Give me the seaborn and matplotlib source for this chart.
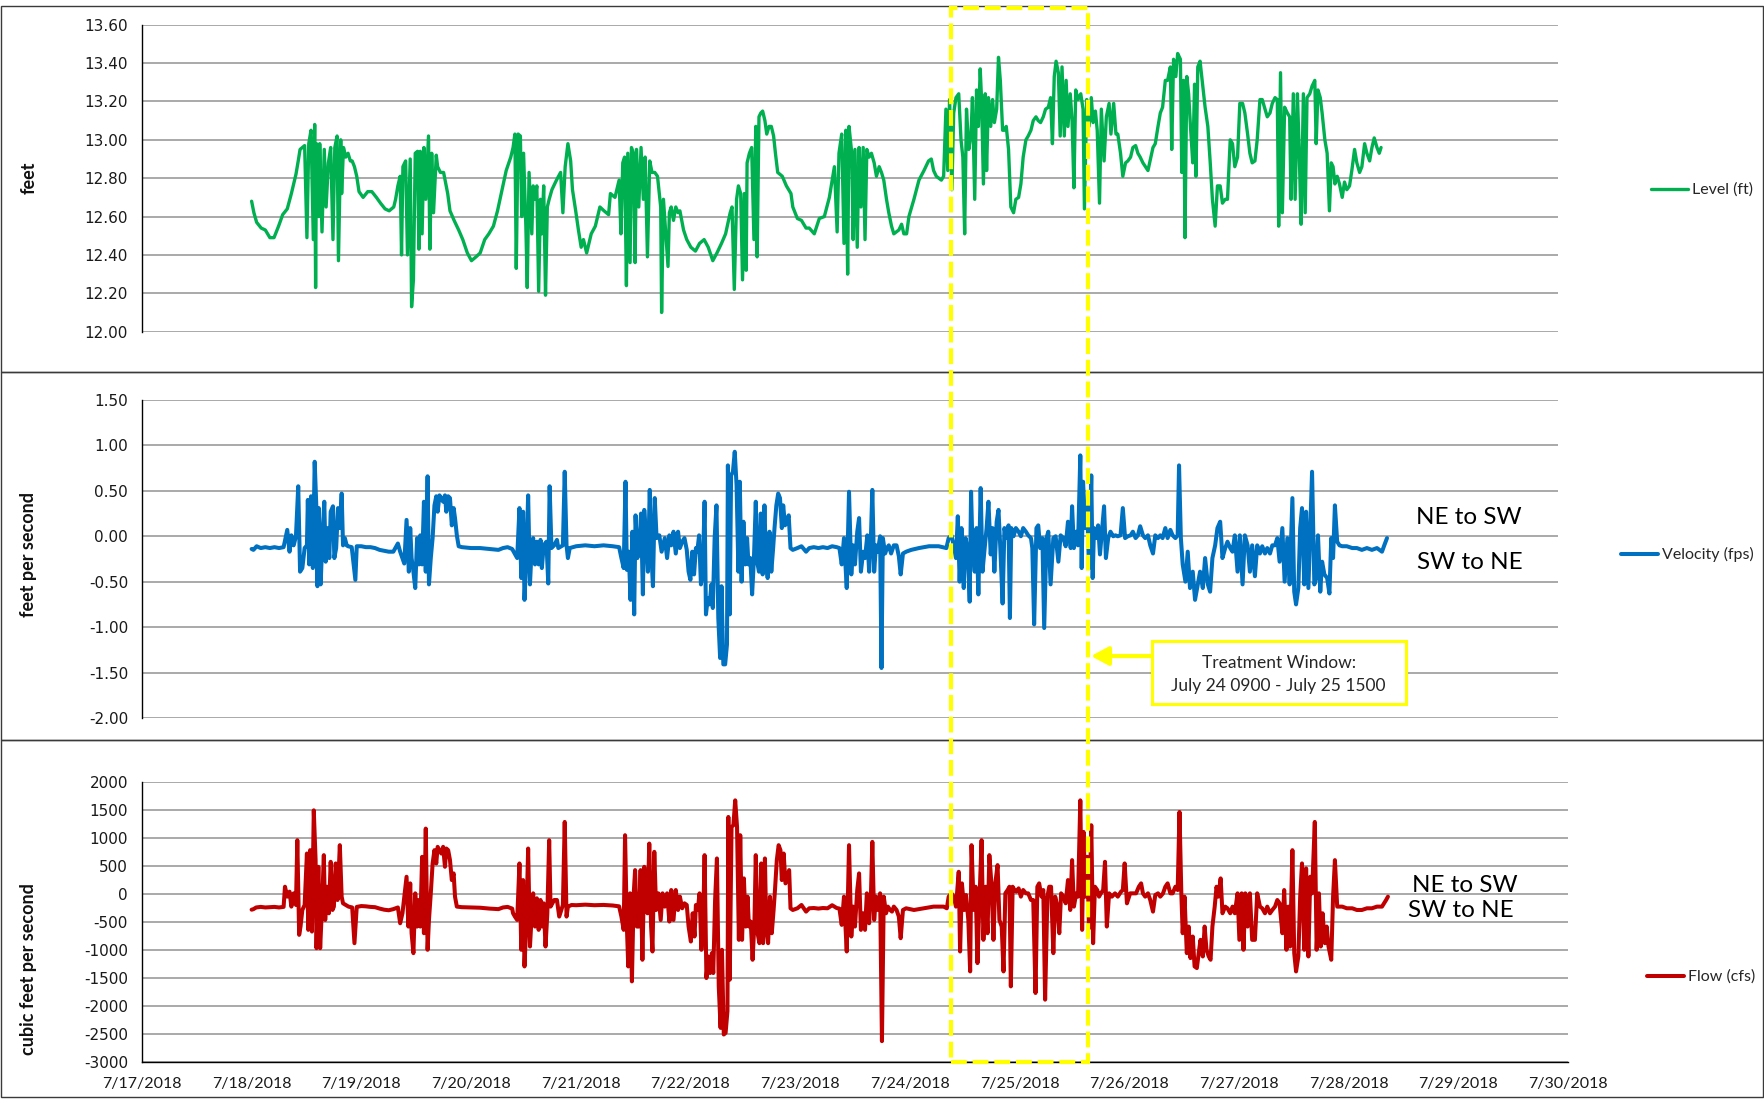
import matplotlib
matplotlib.use("Agg")
import matplotlib.pyplot as plt
import matplotlib.dates as mdates
from matplotlib.patches import Rectangle, FancyArrowPatch
from matplotlib.transforms import blended_transform_factory
from matplotlib.ticker import FuncFormatter
import pandas as pd
import seaborn as sns

# ---------------------------------------------------------------------------
# Gauge readings: (hours after 7/18/2018 00:00, value)
# ---------------------------------------------------------------------------
level_ft = [
    (0.0, 12.68), (0.5, 12.62), (1.1, 12.57), (2.1, 12.54), (3.0, 12.53), (4.0, 12.49), (4.9, 12.49), (5.9, 12.55),
    (6.8, 12.61), (7.8, 12.64), (8.7, 12.72), (9.7, 12.82), (10.2, 12.89), (10.6, 12.95), (11.6, 12.97), (12.1, 12.49),
    (12.5, 12.98), (13.0, 13.05), (13.5, 12.48), (13.8, 13.08), (14.0, 12.23), (14.2, 12.98), (14.7, 12.60), (14.9, 12.98),
    (15.4, 12.52), (15.9, 12.95), (16.3, 12.65), (16.8, 12.88), (17.3, 12.96), (17.8, 12.48), (18.2, 12.96), (18.7, 13.02),
    (19.0, 12.37), (19.5, 13.00), (19.7, 12.72), (20.1, 12.96), (20.6, 12.91), (21.1, 12.93), (21.6, 12.89), (22.0, 12.89),
    (22.5, 12.86), (23.0, 12.81), (23.5, 12.73), (24.4, 12.70), (25.4, 12.73), (26.3, 12.73), (27.3, 12.70), (28.2, 12.67),
    (29.2, 12.64), (30.1, 12.63), (31.1, 12.65), (31.5, 12.69), (32.0, 12.76), (32.5, 12.81), (32.8, 12.40), (33.1, 12.86),
    (33.7, 12.89), (34.1, 12.40), (34.7, 12.90), (35.0, 12.13), (35.4, 12.27), (35.8, 12.93), (36.3, 12.94), (36.6, 12.43),
    (36.9, 12.94), (37.3, 12.51), (37.7, 12.96), (38.1, 12.69), (38.7, 13.02), (39.0, 12.43), (39.4, 12.93), (39.8, 12.62),
    (40.4, 12.92), (40.7, 12.86), (41.3, 12.83), (42.0, 12.83), (42.5, 12.77), (42.9, 12.72), (43.4, 12.63), (44.3, 12.58),
    (45.3, 12.53), (46.2, 12.48), (47.2, 12.41), (48.1, 12.37), (49.1, 12.39), (50.0, 12.41), (51.0, 12.48), (51.9, 12.51),
    (52.9, 12.55), (53.8, 12.63), (54.8, 12.74), (55.7, 12.84), (56.7, 12.91), (57.2, 12.96), (57.6, 13.03), (57.9, 12.33),
    (58.3, 13.03), (58.8, 13.02), (59.1, 12.60), (59.5, 12.93), (60.0, 12.55), (60.3, 12.23), (60.7, 12.83), (61.3, 12.51),
    (61.6, 12.76), (62.0, 12.69), (62.4, 12.76), (62.8, 12.21), (63.2, 12.69), (63.5, 12.51), (63.9, 12.76), (64.3, 12.19),
    (64.7, 12.65), (65.1, 12.69), (65.7, 12.74), (66.7, 12.79), (67.6, 12.83), (68.1, 12.62), (68.6, 12.86), (69.2, 12.98),
    (69.8, 12.89), (70.2, 12.74), (70.9, 12.63), (71.5, 12.53), (72.1, 12.44), (72.6, 12.48), (73.3, 12.41), (74.3, 12.51),
    (75.2, 12.55), (76.2, 12.65), (77.1, 12.63), (78.1, 12.61), (78.5, 12.72), (79.5, 12.70), (80.4, 12.79), (80.8, 12.51),
    (81.2, 12.88), (81.6, 12.91), (82.0, 12.24), (82.3, 12.93), (82.8, 12.36), (83.1, 12.96), (83.5, 12.93), (83.9, 12.36),
    (84.2, 12.95), (84.7, 12.65), (85.2, 12.96), (85.7, 12.69), (86.1, 12.91), (86.6, 12.39), (87.1, 12.89), (87.6, 12.83),
    (88.2, 12.83), (88.8, 12.81), (89.2, 12.72), (89.5, 12.65), (89.7, 12.10), (90.1, 12.69), (90.7, 12.48), (91.1, 12.34),
    (91.4, 12.62), (91.8, 12.65), (92.3, 12.58), (92.8, 12.65), (93.3, 12.62), (93.7, 12.63), (94.5, 12.53), (95.2, 12.48),
    (96.1, 12.44), (97.1, 12.42), (98.0, 12.46), (99.0, 12.48), (99.9, 12.44), (100.9, 12.37), (101.8, 12.41), (102.8, 12.46),
    (103.7, 12.51), (104.7, 12.62), (105.1, 12.65), (105.6, 12.22), (106.1, 12.69), (106.5, 12.76), (107.0, 12.72), (107.4, 12.27),
    (107.8, 12.72), (108.2, 12.32), (108.4, 12.88), (108.9, 12.93), (109.4, 12.96), (109.9, 12.48), (110.3, 13.07), (110.6, 12.39),
    (111.0, 13.12), (111.4, 13.14), (111.8, 13.15), (112.3, 13.10), (112.7, 13.03), (113.2, 13.07), (113.7, 13.07), (114.2, 13.02),
    (114.6, 12.93), (115.1, 12.83), (116.1, 12.81), (117.0, 12.76), (118.0, 12.72), (118.4, 12.65), (119.4, 12.59), (120.3, 12.58),
    (121.3, 12.54), (122.0, 12.54), (123.1, 12.51), (124.2, 12.59), (125.3, 12.60), (126.4, 12.70), (127.5, 12.86), (128.1, 12.52),
    (128.5, 12.93), (129.1, 13.03), (129.6, 12.46), (130.0, 13.05), (130.4, 12.30), (130.7, 13.07), (131.3, 12.93), (131.6, 12.48),
    (132.0, 12.95), (132.5, 12.44), (132.9, 12.96), (133.3, 12.65), (133.8, 12.96), (134.2, 12.48), (134.6, 12.95), (135.1, 12.91),
    (135.6, 12.93), (136.2, 12.88), (136.7, 12.81), (137.3, 12.86), (137.8, 12.83), (138.3, 12.79), (138.9, 12.69), (139.4, 12.62),
    (140.0, 12.55), (140.5, 12.51), (141.6, 12.53), (142.2, 12.56), (142.7, 12.51), (143.3, 12.51), (143.8, 12.60), (144.9, 12.69),
    (146.0, 12.79), (147.1, 12.84), (148.1, 12.89), (148.7, 12.90), (149.2, 12.84), (149.8, 12.81), (150.9, 12.79), (151.4, 12.81),
    (151.9, 13.16), (152.3, 12.84), (152.7, 13.21), (153.2, 12.74), (153.6, 13.14), (154.1, 13.22), (154.7, 13.24), (155.2, 13.00),
    (155.6, 12.91), (156.0, 12.51), (156.4, 13.16), (156.9, 12.95), (157.4, 13.03), (157.7, 13.22), (158.2, 12.69), (158.6, 13.26),
    (159.0, 13.07), (159.4, 13.37), (159.7, 13.21), (160.1, 12.77), (160.5, 13.24), (160.8, 12.84), (161.2, 13.22), (161.7, 13.07),
    (162.1, 13.21), (162.5, 13.09), (163.0, 13.16), (163.4, 13.43), (163.8, 13.31), (164.3, 13.05), (164.7, 13.05), (165.1, 13.07),
    (165.6, 12.95), (166.1, 12.65), (166.7, 12.62), (167.2, 12.69), (167.8, 12.70), (168.3, 12.77), (168.8, 12.91), (169.4, 13.00),
    (169.9, 13.02), (170.5, 13.05), (171.0, 13.10), (171.6, 13.12), (172.1, 13.10), (172.6, 13.09), (173.2, 13.12), (173.7, 13.16),
    (174.3, 13.17), (174.8, 13.22), (175.2, 12.98), (175.6, 13.33), (176.0, 13.41), (176.5, 13.35), (176.9, 13.02), (177.3, 13.38),
    (177.8, 13.02), (178.2, 13.31), (178.6, 13.07), (179.1, 13.24), (179.5, 13.10), (179.9, 12.75), (180.3, 13.26), (180.8, 13.21),
    (181.4, 13.24), (181.9, 13.16), (182.2, 12.64), (182.7, 13.21), (183.2, 13.07), (183.7, 13.22), (184.1, 13.09), (184.6, 13.15),
    (185.0, 13.05), (185.5, 12.67), (185.9, 13.16), (186.5, 12.89), (187.0, 13.12), (187.6, 13.19), (188.0, 13.03), (188.6, 13.19),
    (189.1, 13.03), (189.5, 13.03), (190.1, 12.93), (190.6, 12.81), (191.2, 12.88), (191.7, 12.89), (192.3, 12.91), (192.8, 12.96),
    (193.4, 12.97), (193.9, 12.93), (194.4, 12.91), (195.0, 12.88), (196.1, 12.84), (197.2, 12.96), (197.7, 12.98), (198.3, 13.07),
    (198.8, 13.14), (199.3, 13.17), (199.9, 13.31), (200.4, 13.31), (201.0, 13.38), (201.3, 12.95), (201.7, 13.42), (202.2, 13.33),
    (202.6, 13.45), (203.2, 13.42), (203.5, 12.83), (203.9, 13.31), (204.2, 12.49), (204.6, 13.33), (205.0, 13.24), (205.4, 13.07),
    (205.9, 12.88), (206.3, 13.29), (206.6, 12.81), (207.0, 13.38), (207.5, 13.41), (208.1, 13.28), (208.6, 13.17), (209.2, 13.07),
    (209.7, 12.89), (210.2, 12.69), (210.8, 12.55), (211.3, 12.76), (211.9, 12.76), (212.4, 12.67), (213.0, 12.69), (213.5, 12.69),
    (214.1, 13.00), (214.6, 12.98), (215.1, 12.86), (215.7, 12.91), (216.2, 13.19), (216.8, 13.19), (217.3, 13.14), (217.9, 13.03),
    (218.4, 12.93), (218.9, 12.88), (219.5, 12.89), (220.0, 13.00), (220.6, 13.21), (221.1, 13.21), (221.7, 13.16), (222.2, 13.12),
    (222.8, 13.14), (223.3, 13.19), (223.9, 13.22), (224.4, 13.21), (224.7, 12.55), (225.1, 13.35), (225.5, 12.62), (226.0, 13.17),
    (226.6, 13.14), (227.1, 13.12), (227.4, 12.69), (227.9, 13.24), (228.3, 12.69), (228.8, 13.24), (229.2, 12.93), (229.6, 12.56),
    (230.1, 13.24), (230.5, 12.62), (230.9, 13.22), (231.5, 13.24), (232.0, 13.28), (232.6, 13.31), (232.9, 12.98), (233.3, 13.26),
    (233.8, 13.22), (234.2, 13.14), (234.8, 13.00), (235.3, 12.93), (235.8, 12.63), (236.2, 12.88), (236.6, 12.86), (237.0, 12.77),
    (237.5, 12.81), (238.0, 12.77), (238.6, 12.70), (239.1, 12.78), (239.6, 12.74), (240.2, 12.76), (240.7, 12.84), (241.3, 12.95),
    (241.8, 12.88), (242.4, 12.83), (242.9, 12.86), (243.5, 12.98), (244.0, 12.93), (244.6, 12.89), (245.1, 12.96), (245.6, 13.01),
    (246.2, 12.96), (246.7, 12.93), (247.1, 12.96),
]

velocity_fps = [
    (0.0, -0.14), (0.4, -0.15), (1.1, -0.11), (2.0, -0.13), (3.0, -0.12), (4.0, -0.13), (5.0, -0.12), (6.0, -0.13),
    (7.0, -0.12), (7.8, 0.07), (8.3, -0.17), (8.7, 0.01), (9.2, -0.10), (9.7, 0.00), (10.2, 0.55), (10.6, -0.39),
    (11.1, -0.35), (11.6, -0.13), (12.1, -0.10), (12.3, 0.40), (12.6, -0.31), (13.0, 0.44), (13.4, -0.35), (13.8, 0.82),
    (14.2, 0.27), (14.4, -0.55), (14.7, 0.31), (15.1, -0.53), (15.5, -0.02), (15.9, 0.38), (16.2, -0.28), (16.6, 0.09),
    (17.0, -0.24), (17.3, 0.27), (17.8, 0.33), (18.1, -0.24), (18.5, -0.13), (18.9, 0.31), (19.3, 0.09), (19.7, 0.47),
    (20.0, -0.10), (20.4, -0.02), (20.8, -0.10), (21.1, -0.11), (21.9, -0.12), (22.7, -0.48), (23.0, -0.11), (24.0, -0.11),
    (25.0, -0.12), (26.0, -0.12), (27.0, -0.13), (28.0, -0.15), (29.0, -0.16), (30.0, -0.17), (31.0, -0.17), (32.0, -0.08),
    (32.5, -0.17), (33.4, -0.30), (33.9, 0.18), (34.4, -0.39), (34.7, 0.09), (35.0, -0.24), (35.4, -0.39), (35.8, -0.57),
    (36.2, -0.02), (36.6, -0.31), (36.9, 0.01), (37.3, -0.31), (37.7, 0.38), (38.1, -0.39), (38.5, 0.66), (38.8, -0.53),
    (39.2, -0.24), (39.6, -0.02), (40.0, 0.34), (40.4, 0.44), (40.7, 0.27), (41.1, 0.45), (41.5, 0.42), (41.9, 0.38),
    (42.3, 0.45), (42.6, 0.27), (43.0, 0.44), (43.4, 0.42), (43.8, 0.12), (44.2, 0.31), (44.5, 0.20), (44.9, 0.01),
    (45.3, -0.11), (46.0, -0.12), (48.0, -0.13), (50.0, -0.13), (52.0, -0.14), (54.0, -0.15), (55.0, -0.13), (56.0, -0.12),
    (57.0, -0.14), (58.1, -0.24), (58.6, 0.31), (59.0, -0.46), (59.4, 0.27), (59.7, -0.70), (60.1, -0.24), (60.5, 0.45),
    (60.9, -0.53), (61.3, -0.10), (61.6, -0.02), (62.0, -0.31), (62.4, -0.06), (62.8, -0.31), (63.2, -0.04), (63.5, -0.35),
    (63.9, -0.10), (64.5, -0.06), (64.9, -0.52), (65.2, 0.55), (65.6, -0.13), (66.2, -0.10), (66.8, -0.04), (67.1, -0.13),
    (68.1, -0.10), (68.5, 0.71), (68.9, -0.10), (69.2, -0.24), (69.6, -0.13), (71.0, -0.11), (73.0, -0.10), (75.0, -0.11),
    (77.0, -0.10), (79.0, -0.11), (80.4, -0.12), (80.9, -0.24), (81.4, -0.35), (81.8, 0.60), (82.1, -0.37), (82.5, -0.17),
    (82.9, -0.70), (83.3, 0.05), (83.7, -0.86), (84.0, 0.23), (84.4, -0.24), (84.8, -0.13), (85.2, 0.25), (85.6, -0.64),
    (85.9, 0.29), (86.3, -0.02), (86.7, -0.39), (87.1, 0.51), (87.5, -0.24), (87.8, -0.55), (88.2, 0.42), (88.6, -0.02),
    (89.2, 0.01), (89.7, -0.17), (90.4, -0.02), (90.9, -0.24), (91.4, 0.01), (91.8, -0.10), (92.3, 0.05), (92.8, -0.19),
    (93.3, 0.05), (93.7, -0.13), (94.2, -0.06), (94.7, -0.02), (95.2, -0.15), (95.6, -0.39), (96.0, -0.48), (96.4, -0.17),
    (96.8, -0.42), (97.2, -0.13), (97.5, -0.17), (97.9, 0.01), (98.3, -0.53), (98.7, -0.39), (99.1, 0.38), (99.4, -0.86),
    (99.8, -0.68), (100.2, -0.75), (100.6, -0.53), (100.9, -0.79), (101.3, -0.02), (101.7, 0.34), (102.1, -0.90), (102.5, -1.34),
    (102.8, -0.55), (103.2, -1.41), (103.6, -1.41), (104.0, -1.19), (104.2, 0.78), (104.6, -0.86), (104.9, 0.67), (105.3, 0.71),
    (105.7, 0.93), (106.1, 0.56), (106.5, -0.39), (106.8, 0.60), (107.2, -0.50), (107.6, 0.16), (108.0, -0.31), (108.4, -0.02),
    (108.7, -0.31), (109.1, -0.24), (109.5, -0.64), (109.9, -0.24), (110.3, 0.38), (110.6, -0.28), (111.0, -0.39), (111.4, 0.25),
    (111.8, -0.42), (112.2, 0.34), (112.5, -0.24), (112.9, -0.46), (113.3, 0.05), (113.7, -0.39), (114.1, -0.13), (114.4, 0.09),
    (114.8, 0.34), (115.2, 0.47), (115.6, 0.42), (116.0, 0.09), (116.3, 0.34), (116.7, 0.12), (117.1, 0.16), (117.5, 0.23),
    (117.9, -0.13), (118.4, -0.15), (119.4, -0.13), (120.3, -0.11), (121.3, -0.17), (122.0, -0.13), (123.0, -0.12), (124.0, -0.13),
    (125.0, -0.12), (126.0, -0.13), (127.0, -0.11), (128.0, -0.12), (128.6, -0.13), (129.1, -0.31), (129.6, -0.02), (130.2, -0.57),
    (130.7, 0.49), (131.2, -0.42), (131.6, -0.10), (132.0, -0.31), (132.5, 0.05), (132.9, 0.20), (133.3, -0.39), (133.8, -0.17),
    (134.2, -0.24), (134.7, 0.01), (135.1, -0.39), (135.5, 0.01), (135.8, 0.51), (136.2, -0.39), (136.6, -0.10), (137.0, -0.17),
    (137.5, 0.00), (137.8, -1.45), (138.1, -0.02), (138.6, -0.19), (139.0, -0.13), (139.4, -0.10), (139.9, -0.19), (140.5, -0.10),
    (141.1, -0.10), (141.6, -0.22), (142.0, -0.42), (142.5, -0.19), (143.2, -0.17), (144.3, -0.15), (146.0, -0.13), (148.2, -0.11),
    (150.3, -0.11), (152.0, -0.13), (152.5, -0.02), (153.1, 0.01), (153.6, -0.10), (154.1, -0.24), (154.5, 0.22), (154.9, -0.50),
    (155.3, 0.09), (155.8, -0.57), (156.2, -0.02), (156.7, -0.17), (157.1, -0.72), (157.4, 0.49), (157.7, -0.10), (158.2, -0.39),
    (158.6, 0.09), (159.0, -0.64), (159.5, 0.53), (159.9, -0.39), (160.3, -0.17), (160.8, 0.09), (161.2, 0.38), (161.7, -0.20),
    (162.1, 0.09), (162.5, -0.39), (163.0, 0.16), (163.4, 0.29), (163.8, -0.13), (164.3, -0.74), (164.7, 0.09), (165.1, -0.02),
    (165.6, 0.12), (165.9, -0.90), (166.2, 0.09), (166.7, 0.00), (167.2, 0.09), (167.8, 0.05), (168.3, 0.00), (168.8, 0.09),
    (169.4, 0.05), (169.9, 0.01), (170.5, -0.02), (170.8, -0.13), (171.2, -0.97), (171.7, 0.09), (172.1, 0.12), (172.5, -0.13),
    (173.0, -0.02), (173.4, -1.01), (173.9, -0.02), (174.3, 0.05), (174.8, -0.53), (175.4, -0.02), (175.9, 0.00), (176.5, -0.28),
    (177.0, 0.01), (177.6, -0.02), (178.1, -0.11), (178.6, 0.16), (179.2, -0.13), (179.5, 0.33), (179.9, -0.13), (180.4, 0.05),
    (180.8, -0.10), (181.3, 0.89), (181.6, -0.35), (181.9, 0.60), (182.4, 0.09), (182.8, 0.34), (183.2, -0.35), (183.7, 0.67),
    (184.0, -0.46), (184.3, 0.09), (184.8, -0.02), (185.2, 0.12), (185.6, -0.20), (186.1, 0.09), (186.5, 0.33), (186.9, -0.24),
    (187.4, -0.02), (187.9, 0.05), (188.5, 0.00), (189.0, 0.01), (189.5, 0.00), (190.1, 0.01), (190.6, 0.31), (191.1, -0.02),
    (191.7, 0.00), (192.3, 0.01), (192.8, 0.05), (193.4, -0.02), (193.9, 0.01), (194.4, 0.11), (195.0, 0.01), (195.5, -0.02),
    (196.1, 0.01), (196.6, -0.10), (197.2, -0.19), (197.7, 0.01), (198.3, -0.02), (198.8, 0.01), (199.3, -0.02), (199.9, 0.09),
    (200.4, -0.02), (201.0, 0.07), (201.5, 0.01), (202.1, -0.02), (202.6, 0.01), (202.9, 0.78), (203.3, -0.02), (203.7, -0.31),
    (204.3, -0.50), (204.8, -0.17), (205.3, -0.57), (205.9, -0.39), (206.4, -0.70), (207.0, -0.53), (207.5, -0.39), (208.1, -0.57),
    (208.6, -0.24), (209.2, -0.53), (209.7, -0.61), (210.2, -0.24), (210.8, -0.10), (211.3, 0.09), (211.9, 0.16), (212.4, -0.24),
    (213.0, -0.13), (213.5, -0.06), (214.1, -0.13), (214.6, -0.17), (215.1, 0.01), (215.7, -0.39), (216.2, 0.01), (216.8, -0.53),
    (217.3, 0.01), (217.9, -0.10), (218.4, -0.39), (218.9, -0.10), (219.5, -0.44), (220.0, -0.10), (220.6, -0.19), (221.1, -0.11),
    (221.7, -0.19), (222.2, -0.13), (222.8, -0.19), (223.3, -0.10), (223.9, -0.10), (224.4, -0.02), (224.9, -0.28), (225.5, 0.09),
    (226.0, -0.50), (226.6, -0.02), (227.1, -0.53), (227.7, 0.42), (228.1, -0.61), (228.5, -0.75), (229.0, -0.57), (229.4, 0.09),
    (229.8, 0.31), (230.3, -0.53), (230.7, 0.27), (231.2, -0.57), (231.6, 0.09), (232.0, 0.71), (232.5, -0.53), (232.9, -0.46),
    (233.3, 0.01), (233.8, -0.61), (234.2, -0.28), (234.7, -0.42), (235.3, -0.46), (235.8, -0.63), (236.2, -0.02), (236.6, -0.24),
    (237.0, 0.34), (237.5, -0.06), (238.0, -0.10), (238.6, -0.11), (239.6, -0.11), (240.8, -0.13), (241.8, -0.13), (242.9, -0.15),
    (244.0, -0.13), (245.1, -0.15), (246.2, -0.13), (247.3, -0.17), (247.8, -0.10), (248.4, -0.02),
]

flow_cfs = [
    (0.0, -280), (0.4, -270), (1.0, -240), (2.0, -230), (3.0, -240), (4.0, -235), (5.0, -230), (6.0, -240),
    (7.0, -230), (7.3, 130), (7.8, -47), (8.3, 42), (8.7, -225), (9.2, 12), (9.7, -196), (10.0, 961),
    (10.4, -729), (10.7, -581), (11.1, -285), (11.6, -196), (12.1, 723), (12.4, -640), (12.8, 783), (13.2, -670),
    (13.6, 1494), (14.0, 605), (14.2, -967), (14.6, 486), (15.0, -967), (15.4, -225), (15.8, 694), (16.1, -463),
    (16.5, 130), (16.9, -344), (17.3, 575), (17.7, -285), (18.0, -225), (18.4, 546), (18.8, -107), (19.3, 872),
    (19.7, -47), (20.0, -166), (20.6, -196), (21.2, -225), (22.0, -240), (22.5, -878), (23.0, -230), (24.0, -215),
    (25.0, -220), (26.0, -230), (27.0, -235), (28.0, -260), (29.0, -280), (30.0, -290), (31.0, -270), (32.0, -240),
    (32.5, -522), (33.0, -344), (33.4, -47), (33.9, 308), (34.3, -581), (34.7, 190), (35.0, -700), (35.4, -1056),
    (35.8, 12), (36.2, -581), (36.6, -107), (36.9, -581), (37.3, 664), (37.7, -700), (38.1, 1168), (38.5, -996),
    (38.8, -463), (39.2, 12), (39.6, 546), (40.0, 783), (40.4, 546), (40.7, 842), (41.1, 783), (41.5, 723),
    (41.9, 842), (42.3, 486), (42.6, 812), (43.0, 783), (43.4, 605), (43.8, 249), (44.2, 368), (44.5, -47),
    (44.9, -225), (46.0, -235), (48.0, -240), (50.0, -245), (52.0, -260), (54.0, -270), (55.0, -240), (56.0, -230),
    (57.0, -260), (57.2, -344), (57.6, -403), (58.1, -463), (58.6, 546), (59.0, -996), (59.4, 249), (59.7, -1293),
    (60.1, -522), (60.5, 812), (60.9, -937), (61.3, -344), (61.6, 12), (62.0, -581), (62.4, -77), (62.8, -640),
    (63.2, -107), (63.5, -581), (63.9, -166), (64.3, -937), (64.7, -344), (65.1, 961), (65.4, -225), (66.2, -107),
    (66.8, -107), (67.3, -403), (68.1, -196), (68.5, 1287), (68.9, -403), (69.2, -225), (70.0, -196), (71.0, -200),
    (73.0, -190), (75.0, -200), (77.0, -195), (79.0, -205), (80.4, -220), (80.9, -403), (81.4, -640), (81.7, 1050),
    (82.1, -581), (82.4, -1293), (82.8, 12), (83.2, -1560), (83.6, 12), (83.9, 427), (84.3, -581), (84.7, -581),
    (85.1, 427), (85.5, -1174), (85.9, 486), (86.2, -107), (86.6, -344), (87.0, 901), (87.4, -581), (87.7, -1026),
    (88.1, 753), (88.5, -285), (89.0, 12), (89.5, -463), (89.9, 12), (90.4, -225), (90.9, 12), (91.4, -492),
    (91.8, 71), (92.3, -463), (92.8, 71), (93.3, -285), (93.7, -47), (94.2, -255), (94.7, -166), (95.2, -196),
    (95.6, -581), (96.1, -848), (96.5, -344), (96.9, -759), (97.2, -196), (97.6, -285), (98.0, 12), (98.4, -996),
    (98.8, -463), (99.1, 694), (99.5, -1500), (99.9, -1115), (100.3, -1411), (100.7, -1056), (101.0, -1411), (101.4, -107),
    (101.8, 635), (102.2, -1649), (102.6, -2390), (102.9, -996), (103.3, -2508), (103.7, -2479), (104.1, -2093), (104.3, 1376),
    (104.6, -1530), (105.0, 1198), (105.4, 1228), (105.8, 1672), (106.2, 1198), (106.6, -818), (106.9, 1050), (107.3, -818),
    (107.7, 279), (108.1, -581), (108.5, -47), (108.8, -581), (109.2, -492), (109.6, -1174), (110.0, -522), (110.3, 694),
    (110.7, -700), (111.1, -878), (111.5, 546), (111.9, -878), (112.3, 635), (112.6, -611), (113.0, -878), (113.4, -47),
    (113.8, -700), (114.2, -285), (114.5, 71), (114.9, 605), (115.3, 872), (115.7, 783), (116.0, 249), (116.4, 723),
    (116.8, 190), (117.2, 308), (117.6, 427), (117.9, -255), (118.4, -285), (119.4, -255), (120.3, -196), (121.3, -314),
    (122.0, -255), (123.0, -250), (124.0, -260), (125.0, -250), (126.0, -255), (127.0, -200), (128.0, -250), (128.6, -260),
    (129.1, -551), (129.6, -47), (130.2, -1026), (130.7, 872), (131.2, -759), (131.6, -225), (132.0, -581), (132.5, 71),
    (132.9, 368), (133.3, -640), (133.8, -344), (134.2, -640), (134.6, 12), (135.1, -522), (135.5, 12), (135.8, 931),
    (136.2, -463), (136.6, -47), (137.0, -285), (137.5, 12), (137.9, -2627), (138.3, -47), (138.8, -344), (139.2, -225),
    (139.7, -285), (140.1, -314), (140.5, -225), (141.1, -285), (141.6, -403), (142.0, -789), (142.5, -285), (143.2, -255),
    (144.9, -285), (147.1, -255), (149.2, -225), (151.4, -225), (152.1, -255), (152.5, -47), (153.1, 12), (153.6, -47),
    (154.1, -225), (154.7, 397), (155.0, -1026), (155.4, 190), (155.9, -285), (156.3, -18), (156.8, -463), (157.2, -1382),
    (157.5, 872), (158.0, -285), (158.4, 130), (158.8, -1233), (159.3, 42), (159.7, 961), (160.1, -818), (160.6, 130),
    (161.0, -700), (161.4, 694), (161.9, 130), (162.3, -818), (162.7, 190), (163.2, 516), (163.6, -463), (164.1, -581),
    (164.5, -1382), (164.9, 12), (165.4, 71), (165.8, 130), (166.1, -1649), (166.5, 130), (166.9, 71), (167.3, 42),
    (167.8, 101), (168.3, -47), (168.8, 71), (169.4, 12), (169.9, 12), (170.5, -107), (171.0, -107), (171.5, -1767),
    (171.9, 130), (172.3, 190), (172.8, -47), (173.2, 71), (173.6, -1886), (174.1, -47), (174.5, 130), (174.9, 130),
    (175.4, -1056), (175.8, -47), (176.3, -225), (176.7, -700), (177.1, 12), (177.6, -47), (178.1, -166), (178.6, 249),
    (179.1, -285), (179.5, 605), (179.9, -225), (180.4, 12), (180.8, -47), (181.3, 1672), (181.7, -640), (182.0, 1109),
    (182.4, -47), (182.8, 664), (183.2, -611), (183.7, 1228), (184.1, -878), (184.5, 130), (185.0, 71), (185.4, -47),
    (185.8, 12), (186.3, 71), (186.7, 575), (187.1, -581), (187.6, 12), (188.2, -47), (188.9, 12), (189.5, -47),
    (190.2, 42), (190.6, 71), (191.0, 546), (191.5, -166), (192.2, 12), (192.8, 12), (193.5, 12), (194.1, 130),
    (194.6, 190), (195.0, 12), (195.5, -47), (196.1, 12), (196.6, -107), (197.2, -314), (197.7, -18), (198.3, 12),
    (198.8, -47), (199.4, 12), (199.9, 130), (200.4, 190), (201.0, 12), (201.5, 12), (202.1, 130), (202.6, 71),
    (203.0, 1465), (203.4, 12), (203.7, -700), (204.1, -47), (204.6, -1056), (205.0, -581), (205.4, -1144), (205.9, -759),
    (206.3, -1293), (206.8, -1322), (207.2, -1056), (207.6, -818), (208.1, -1115), (208.5, -581), (208.9, -996), (209.4, -1115),
    (209.8, -1174), (210.2, -581), (210.7, -225), (211.1, 130), (211.5, -47), (212.0, 279), (212.4, -344), (213.0, -225),
    (213.5, -255), (214.1, -344), (214.6, -225), (215.1, -344), (215.7, 12), (216.1, -818), (216.6, 12), (217.0, -996),
    (217.4, 12), (217.9, -581), (218.4, 12), (218.9, -818), (219.5, -818), (220.0, 12), (220.6, -225), (221.1, -255),
    (221.7, -344), (222.2, -225), (222.8, -344), (223.3, -285), (223.9, -225), (224.4, -107), (224.9, -166), (225.5, -700),
    (225.9, 71), (226.4, -996), (226.8, -225), (227.2, -937), (227.7, 783), (228.1, -1056), (228.5, -1382), (229.0, -1115),
    (229.4, -47), (229.8, 546), (230.3, -996), (230.7, 457), (231.2, -1115), (231.6, 308), (232.0, 12), (232.6, 1287),
    (233.0, -996), (233.5, 12), (233.9, -937), (234.3, -344), (234.8, -878), (235.2, -581), (235.6, -937), (236.2, -1174),
    (236.6, -47), (237.0, 605), (237.5, -225), (238.6, -225), (239.6, -255), (240.8, -255), (241.8, -285), (242.9, -285),
    (244.0, -255), (245.1, -255), (246.2, -225), (247.3, -225), (248.2, -107), (248.6, -47),
]

level_ticks = [12.00, 12.20, 12.40, 12.60, 12.80, 13.00, 13.20, 13.40, 13.60]
velocity_ticks = [-2.00, -1.50, -1.00, -0.50, 0.00, 0.50, 1.00, 1.50]
flow_ticks = [-3000, -2500, -2000, -1500, -1000, -500, 0, 500, 1000, 1500, 2000]

series_labels = ["Level (ft)", "Velocity (fps)", "Flow (cfs)"]
axis_titles = ["feet", "feet per second", "cubic feet per second"]

record_start = pd.Timestamp("2018-07-18 00:00")
window_start = pd.Timestamp("2018-07-24 09:00")
window_end = pd.Timestamp("2018-07-25 15:00")
x_first = pd.Timestamp("2018-07-17")
x_last = pd.Timestamp("2018-07-30")


def to_frame(readings, column):
    hours, values = zip(*readings)
    return pd.DataFrame({
        "time": record_start + pd.to_timedelta(list(hours), unit="h"),
        column: list(values),
    })


sns.set_style("white")
plt.rcParams["font.family"] = ["Lato", "DejaVu Sans"]
plt.rcParams["axes.unicode_minus"] = False

fig = plt.figure(figsize=(17.65, 11.0), dpi=100)
fig.patch.set_facecolor("white")

# the upper two charts stop a little short of the bottom chart's right end
LEFT, WIDTH, WIDTH_SHORT = 0.0804, 0.808, 0.8023
short_end = x_last - pd.Timedelta(hours=2.2)
ax_level = fig.add_axes([LEFT, 0.6985, WIDTH_SHORT, 0.2790])
ax_vel = fig.add_axes([LEFT, 0.3473, WIDTH_SHORT, 0.2891])
ax_flow = fig.add_axes([LEFT, 0.0345, WIDTH, 0.2546])

GREEN, BLUE, RED = "#00B050", "#0070C0", "#C00000"
GRID = "#a3a3a3"
YELLOW = "#FFFF00"

panels = [
    (ax_level, to_frame(level_ft, "v"), GREEN, 2.4, level_ticks, "{:.2f}", (0.9354, 0.8273), short_end),
    (ax_vel, to_frame(velocity_fps, "v"), BLUE, 2.9, velocity_ticks, "{:.2f}", (0.9184, 0.4955), short_end),
    (ax_flow, to_frame(flow_cfs, "v"), RED, 2.9, flow_ticks, "{:.0f}", (0.9331, 0.1118), x_last),
]

for (ax, df, color, lw, ticks, fmt, legend_at, x_end), label in zip(panels, series_labels):
    sns.lineplot(data=df, x="time", y="v", ax=ax, color=color, linewidth=lw,
                 label=label, estimator=None, errorbar=None,
                 solid_joinstyle="round", solid_capstyle="round")
    ax.set_xlim(x_first, x_end)
    ax.set_ylim(ticks[0], ticks[-1])
    ax.set_yticks(ticks)
    ax.yaxis.set_major_formatter(FuncFormatter(lambda v, _p, f=fmt: f.format(v)))
    ax.set_xlabel("")
    ax.set_ylabel("")
    ax.set_facecolor("none")
    ax.grid(axis="y", color=GRID, linewidth=1.3)
    ax.grid(axis="x", visible=False)
    ax.set_axisbelow(True)
    for side in ("top", "right"):
        ax.spines[side].set_visible(False)
    ax.spines["left"].set_color("black")
    ax.spines["left"].set_linewidth(1.0)
    ax.tick_params(axis="y", direction="out", length=4, width=1, color="black",
                   labelsize=11, pad=6, labelcolor="#1a1a1a", labelfontfamily="DejaVu Sans")
    leg = ax.legend(loc="center left", bbox_to_anchor=legend_at, bbox_transform=fig.transFigure,
                    frameon=False, fontsize=11.5, handlelength=2.3, handletextpad=0.25,
                    borderpad=0, borderaxespad=0)
    for t in leg.get_texts():
        t.set_color("#262626")

for ax in (ax_level, ax_vel):
    ax.spines["bottom"].set_visible(False)
    ax.tick_params(axis="x", which="both", bottom=False, labelbottom=False)

ax_flow.spines["bottom"].set_color("black")
ax_flow.spines["bottom"].set_linewidth(1.0)
ax_flow.xaxis.set_major_locator(mdates.DayLocator())
ax_flow.xaxis.set_minor_locator(mdates.HourLocator(byhour=[12]))
ax_flow.xaxis.set_major_formatter(
    FuncFormatter(lambda v, _p: (lambda d: f"{d.month}/{d.day}/{d.year}")(mdates.num2date(v))))
ax_flow.tick_params(axis="x", which="both", direction="out", length=4, width=1,
                    color="black", labelsize=11.5, pad=7, labelcolor="#1a1a1a")

# axis titles on the left edge
for title, yc in zip(axis_titles, [0.838, 0.4955, 0.1194]):
    fig.text(0.0164, yc, title, rotation=90, ha="center", va="center", fontsize=13,
             fontweight="bold", family=["Liberation Sans Narrow", "Lato", "DejaVu Sans"],
             color="#111111")

# chart frames
for bottom, top in [(0.6614, 0.9948), (0.3273, 0.6614), (0.0023, 0.3273)]:
    fig.add_artist(Rectangle((0.0006, bottom), 0.9983, top - bottom, transform=fig.transFigure,
                             fill=False, edgecolor="#3a3a3a", linewidth=1.0, zorder=2))

# treatment window outline spanning all three charts
trans = blended_transform_factory(ax_flow.transData, fig.transFigure)
x0 = mdates.date2num(window_start)
x1 = mdates.date2num(window_end)
fig.add_artist(Rectangle((x0, 0.0345), x1 - x0, 0.9925 - 0.0345, transform=trans,
                         fill=False, edgecolor=YELLOW, linewidth=3.0,
                         linestyle=(0, (3.8, 1.4)), zorder=5, clip_on=False))

# callout
fig.add_artist(Rectangle((0.6525, 0.3603), 0.1441, 0.0570, transform=fig.transFigure,
                         facecolor="white", edgecolor=YELLOW, linewidth=2.2, zorder=6))
fig.text(0.7245, 0.3924, "Treatment Window:", ha="center", va="baseline",
         fontsize=12.5, color="#262626", zorder=7)
fig.text(0.7245, 0.3718, "July 24 0900 - July 25 1500", ha="center", va="baseline",
         fontsize=12.5, color="#262626", zorder=7)
fig.add_artist(FancyArrowPatch((0.6525, 0.4036), (0.6181, 0.4036), transform=fig.transFigure,
                               arrowstyle="-|>,head_length=0.75,head_width=0.4",
                               mutation_scale=14, color=YELLOW, linewidth=3,
                               shrinkA=0, shrinkB=0, zorder=6))

# flow direction notes
for x, y, txt in [(0.8323, 0.5239, "NE to SW"), (0.8329, 0.4824, "SW to NE"),
                  (0.8300, 0.1894, "NE to SW"), (0.8278, 0.1661, "SW to NE")]:
    fig.text(x, y, txt, ha="center", va="baseline", fontsize=17.5, color="black")

fig.savefig("out.png", dpi=100, facecolor="white")
